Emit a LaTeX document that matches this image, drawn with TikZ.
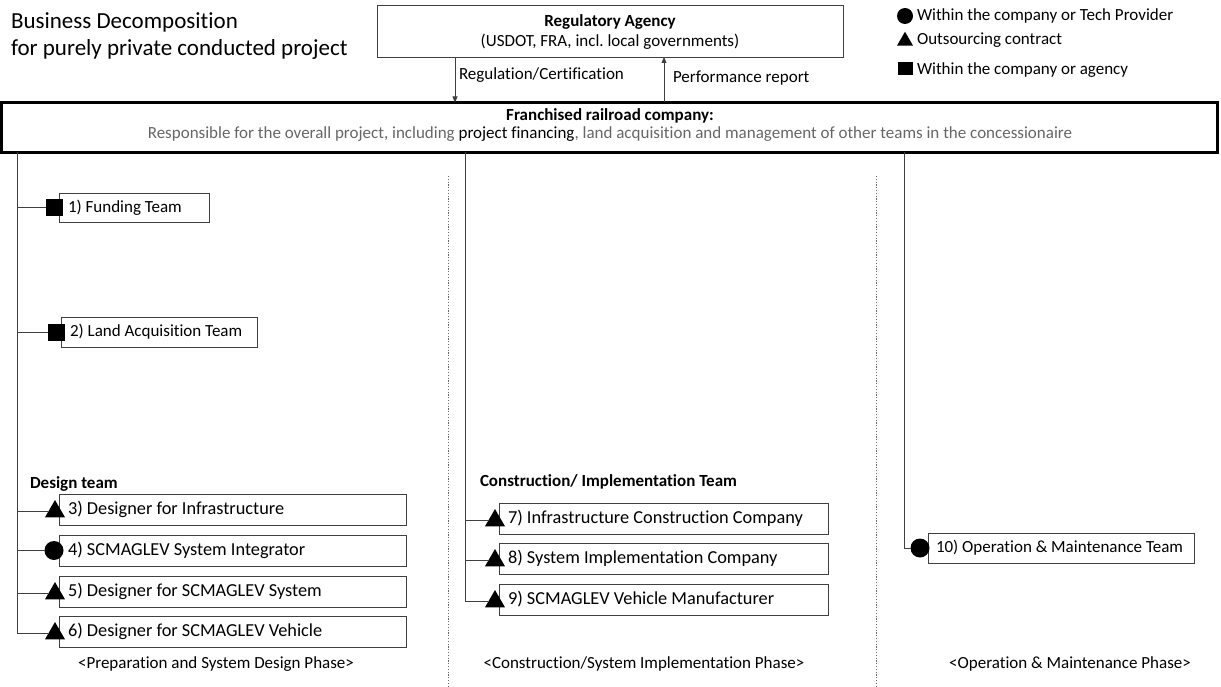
\documentclass[tikz,border=0pt]{standalone}
\usepackage{fontspec}
\setmainfont{Carlito}[Ligatures=NoCommon]
\usetikzlibrary{arrows.meta,shapes.geometric}

\begin{document}
\frenchspacing
\begin{tikzpicture}[x=1pt,y=-1pt,
  every node/.style={inner sep=0pt, outer sep=0pt},
  bodyfont/.style={font=\fontsize{17}{20}\selectfont},
  teambox/.style={draw=black!75, line width=0.8pt, fill=white, anchor=north west,
    bodyfont, align=flush left, inner xsep=9pt, minimum height=31pt},
  widebox/.style={teambox, font=\fontsize{18.3}{21}\selectfont},
  conn/.style={draw=black!75, line width=0.8pt},
  sqmark/.style={rectangle, fill=black, minimum size=17pt},
  trimark/.style={regular polygon, regular polygon sides=3, fill=black, minimum size=23pt},
  circmark/.style={circle, fill=black, minimum size=19pt},
  phase/.style={bodyfont, anchor=center},
  teamhead/.style={font=\fontsize{17}{20}\selectfont\bfseries, anchor=west},
  sep/.style={draw=black!60, line width=0.8pt, dash pattern=on 1.2pt off 1.6pt},
  flow/.style={draw=black!75, line width=0.8pt, -{Triangle[length=6pt,width=5pt]}}
]
\useasboundingbox (0,0) rectangle (1221,687);

% title
\node[anchor=base west, font=\fontsize{23}{27}\selectfont] (title1) at (11,29) {Business Decomposition};
\node[anchor=base west, font=\fontsize{23}{27}\selectfont] (title2) at (11,56) {for purely private conducted project};

% regulator
\node[draw=black!75, line width=0.8pt, anchor=north west, minimum width=466pt, minimum height=52pt] (ra) at (377,5) {};
\node[font=\fontsize{17}{20}\selectfont\bfseries] (ra1) at (610,22) {Regulatory Agency};
\node[bodyfont] (ra2) at (610,42) {(USDOT, FRA, incl. local governments)};

% legend
\node[circmark, minimum size=16pt] (lc) at (905,16) {};
\node[bodyfont, anchor=west] (lct) at (917,16) {Within the company or Tech Provider};
\node[trimark, minimum size=18.5pt] (lt) at (905,41) {};
\node[bodyfont, anchor=west] (ltt) at (917,40) {Outsourcing contract};
\node[sqmark, minimum width=15pt, minimum height=13pt] (ls) at (905,69) {};
\node[bodyfont, anchor=west] (lst) at (917,70) {Within the company or agency};

% franchised company
\node[draw=black, line width=3pt, anchor=north west, minimum width=1216pt, minimum height=50pt] (fr) at (1.5,102.5) {};
\node[font=\fontsize{17}{20}\selectfont\bfseries] (fr1) at (610,116) {Franchised railroad company:};
\node[bodyfont, text=black!60] (fr2) at (610,134)
  {Responsible for the overall project, including \textcolor{black}{project financing}, land acquisition and management of other teams in the concessionaire};

% regulation flows
\coordinate (xdown) at (455,0);
\coordinate (xup) at (664,0);
\draw[flow] (ra.south -| xdown) -- (fr.north -| xdown);
\draw[flow] (fr.north -| xup) -- (ra.south -| xup);
\node[bodyfont, anchor=west] (lreg) at (459,75) {Regulation/Certification};
\node[bodyfont, anchor=west] (lperf) at (673,78) {Performance report};

% phase separators
\coordinate (s1a) at (448,176); \coordinate (s1b) at (448,687);
\coordinate (s2a) at (876,176); \coordinate (s2b) at (876,687);
\draw[sep] (s1a) -- (s1b);
\draw[sep] (s2a) -- (s2b);

% trunk positions
\coordinate (tA) at (17,0);
\coordinate (tB) at (465,0);
\coordinate (tC) at (904,0);

% preparation and design phase
\node[teambox, text width=132pt, minimum height=29pt] (b1) at (59,193) {1) Funding Team};
\node[teambox, text width=178pt, minimum height=30pt] (b2) at (61,317) {2) Land Acquisition Team};
\node[teamhead] (hd) at (30,484) {Design team};
\node[widebox, text width=329pt] (b3) at (59,494) {3) Designer for Infrastructure};
\node[widebox, text width=329pt] (b4) at (59,535) {4) SCMAGLEV System Integrator};
\node[widebox, text width=329pt] (b5) at (59,576) {5) Designer for SCMAGLEV System};
\node[widebox, text width=329pt] (b6) at (59,616) {6) Designer for SCMAGLEV Vehicle};

\node[sqmark] (m1) at ([xshift=-5pt]b1.west) {};
\node[sqmark] (m2) at ([xshift=-5pt]b2.west) {};
\node[trimark] (m3) at ([xshift=-4pt,yshift=-2pt]b3.west) {};
\node[circmark] (m4) at ([xshift=-5pt]b4.west) {};
\node[trimark] (m5) at ([xshift=-4pt,yshift=-2pt]b5.west) {};
\node[trimark] (m6) at ([xshift=-4pt,yshift=-2pt]b6.west) {};

\draw[conn] (fr.south -| tA) |- (m6.west);
\foreach \m in {m1,m2,m3,m4,m5} \draw[conn] (fr.south -| tA) |- (\m.west);

\node[phase] (p1) at (216,664) {<Preparation and System Design Phase>};

% construction phase
\node[teamhead] (hc) at (480,482) {Construction/ Implementation Team};
\node[widebox, text width=311pt] (b7) at (499,503) {7) Infrastructure Construction Company};
\node[widebox, text width=311pt] (b8) at (499,543) {8) System Implementation Company};
\node[widebox, text width=311pt] (b9) at (499,584) {9) SCMAGLEV Vehicle Manufacturer};

\node[trimark] (m7) at ([xshift=-4pt,yshift=-2pt]b7.west) {};
\node[trimark] (m8) at ([xshift=-4pt,yshift=-2pt]b8.west) {};
\node[trimark] (m9) at ([xshift=-4pt,yshift=-2pt]b9.west) {};

\draw[conn] (fr.south -| tB) |- (m9.west);
\foreach \m in {m7,m8} \draw[conn] (fr.south -| tB) |- (\m.west);

\node[phase] (p2) at (644,664) {<Construction/System Implementation Phase>};

% operation phase
\node[teambox, text width=250pt, inner xsep=8pt, minimum height=30pt] (b10) at (928,533) {10) Operation \& Maintenance Team};
\node[circmark] (m10) at ([xshift=-8pt]b10.west) {};
\draw[conn] (fr.south -| tC) |- (m10.west);

\node[phase] (p3) at (1070,664) {<Operation \& Maintenance Phase>};

\end{tikzpicture}
\end{document}
